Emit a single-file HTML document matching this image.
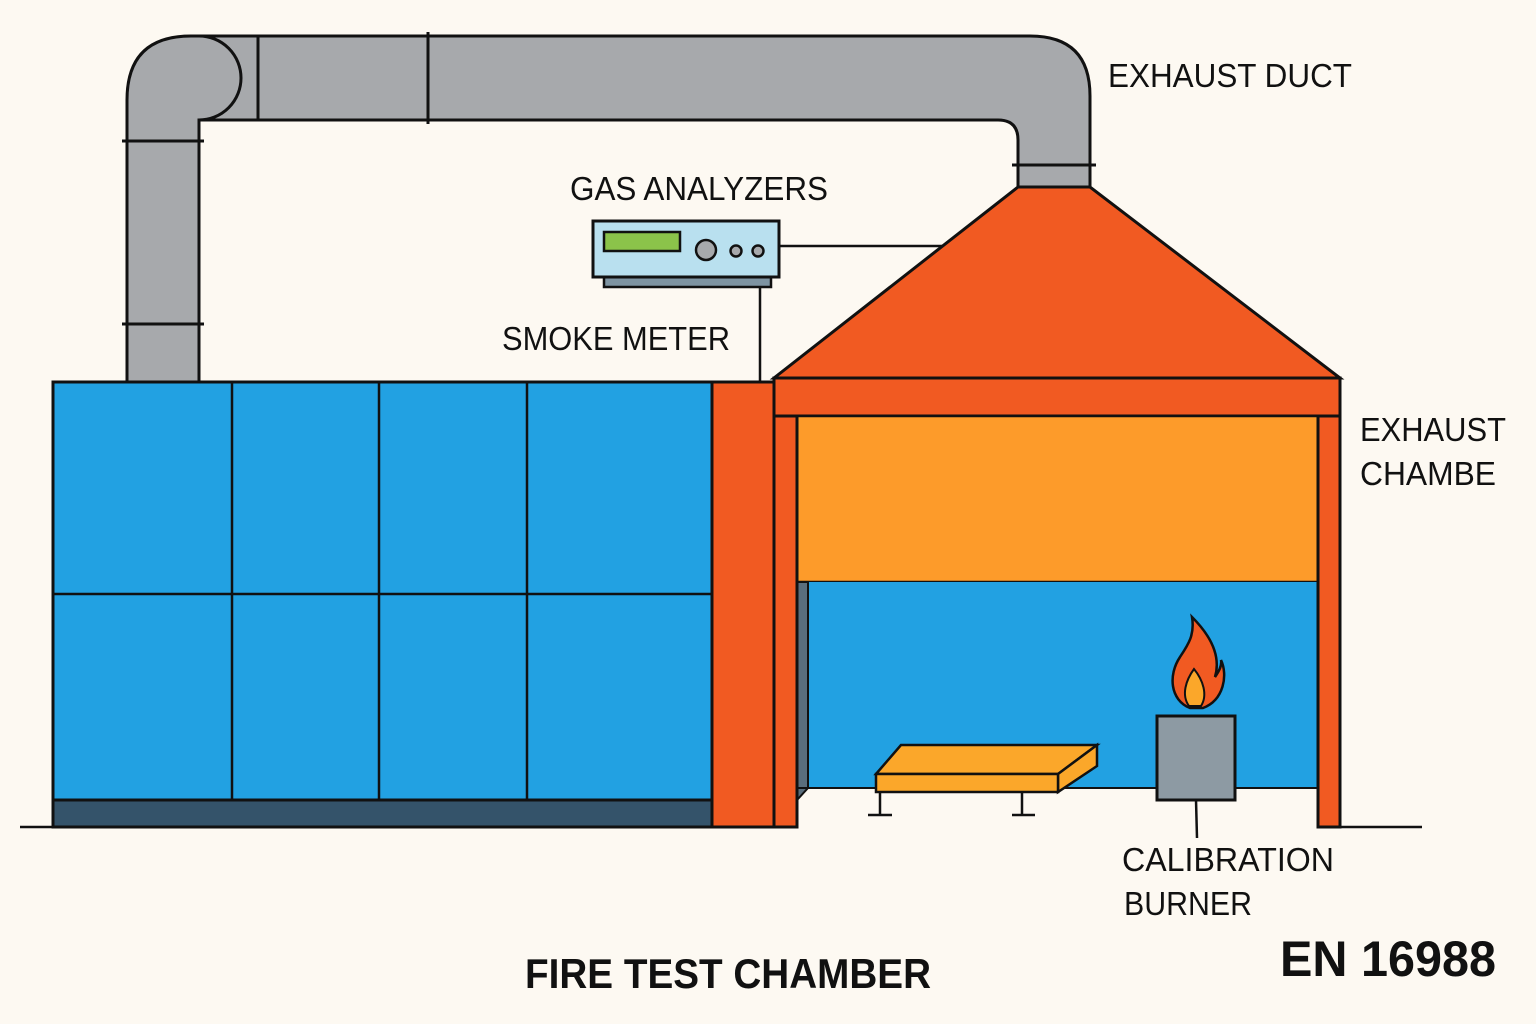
<!DOCTYPE html>
<html><head><meta charset="utf-8"><style>html,body{margin:0;padding:0;background:#fdf9f2}svg{display:block}</style></head><body>
<svg width="1536" height="1024" viewBox="0 0 1536 1024" xmlns="http://www.w3.org/2000/svg" font-family="Liberation Sans, sans-serif">
<rect width="1536" height="1024" fill="#fdf9f2"/>
<path d="M127,382 V100 Q127,36 191,36 H1030 Q1090,36 1090,96 V187 H1018 V140 Q1018,120 998,120 H199 V382 Z" fill="#a7a9ac" stroke="#111" stroke-width="3"/>
<path d="M199,120 A42,42 0 0 0 199,36" fill="none" stroke="#111" stroke-width="3"/>
<line x1="258" y1="36" x2="258" y2="120" stroke="#111" stroke-width="3"/>
<line x1="428" y1="32" x2="428" y2="124" stroke="#111" stroke-width="3"/>
<line x1="122" y1="141" x2="204" y2="141" stroke="#111" stroke-width="3"/>
<line x1="122" y1="324" x2="204" y2="324" stroke="#111" stroke-width="3"/>
<line x1="1012" y1="165" x2="1096" y2="165" stroke="#111" stroke-width="3"/>
<rect x="53" y="382" width="659" height="418" fill="#22a1e2" stroke="#111" stroke-width="3"/>
<rect x="53" y="800" width="659" height="27" fill="#34536a" stroke="#111" stroke-width="3"/>
<g stroke="#111" stroke-width="2.5"><line x1="232" y1="382" x2="232" y2="800"/><line x1="379" y1="382" x2="379" y2="800"/><line x1="527" y1="382" x2="527" y2="800"/><line x1="53" y1="594" x2="712" y2="594"/></g>
<rect x="712" y="382" width="62" height="445" fill="#f15a22" stroke="#111" stroke-width="3"/>
<polygon points="1018,187 1090,187 1340,378 774,378" fill="#f15a22" stroke="#111" stroke-width="3"/>
<rect x="774" y="378" width="566" height="38" fill="#f15a22" stroke="#111" stroke-width="3"/>
<rect x="797" y="416" width="521" height="166" fill="#fd9b2a" stroke="#111" stroke-width="2.5"/>
<rect x="808" y="582" width="510" height="206" fill="#22a1e2"/>
<polygon points="797,582 808,582 808,788 797,800" fill="#5a6e7d" stroke="#111" stroke-width="2"/>
<line x1="797" y1="788" x2="1318" y2="788" stroke="#111" stroke-width="2"/>
<rect x="774" y="416" width="23" height="411" fill="#f15a22" stroke="#111" stroke-width="3"/>
<rect x="1318" y="416" width="22" height="411" fill="#f15a22" stroke="#111" stroke-width="3"/>
<line x1="20" y1="827" x2="53" y2="827" stroke="#111" stroke-width="2.5"/>
<line x1="1340" y1="827" x2="1422" y2="827" stroke="#111" stroke-width="2.5"/>
<line x1="779" y1="246" x2="943" y2="246" stroke="#111" stroke-width="2.5"/>
<line x1="760" y1="287" x2="760" y2="382" stroke="#111" stroke-width="2.5"/>
<rect x="604" y="277" width="167" height="10" fill="#7e94a2" stroke="#111" stroke-width="2.5"/>
<rect x="593" y="221" width="186" height="56" fill="#b9e0ef" stroke="#111" stroke-width="3"/>
<rect x="604" y="232" width="76" height="19" fill="#8bc34a" stroke="#111" stroke-width="2.5"/>
<circle cx="706" cy="250" r="10" fill="#a7a9ac" stroke="#111" stroke-width="2.5"/>
<circle cx="736" cy="251" r="5.5" fill="#a7a9ac" stroke="#111" stroke-width="2.5"/>
<circle cx="758" cy="251" r="5.5" fill="#a7a9ac" stroke="#111" stroke-width="2.5"/>
<g stroke="#111" stroke-width="2.5">
<line x1="880" y1="792" x2="880" y2="815"/><line x1="868" y1="815" x2="892" y2="815"/>
<line x1="1022" y1="792" x2="1022" y2="815"/><line x1="1012" y1="815" x2="1035" y2="815"/>
<line x1="1060" y1="780" x2="1060" y2="788"/>
<polygon points="876,774 901,745 1097,745 1058,774" fill="#fba72a"/>
<polygon points="1058,774 1097,745 1097,766 1058,792" fill="#fba72a"/>
<rect x="876" y="774" width="182" height="18" fill="#fba72a"/>
</g>
<line x1="1196" y1="800" x2="1197" y2="838" stroke="#111" stroke-width="2.5"/>
<rect x="1157" y="716" width="78" height="84" fill="#8d9aa3" stroke="#111" stroke-width="3"/>
<path d="M1192,617 C1215,640 1220,660 1215,677 C1220,670 1222,665 1221,660 C1228,675 1224,700 1203,708 L1190,708 C1170,700 1168,675 1180,657 C1188,645 1195,635 1192,617 Z" fill="#f15a22" stroke="#111" stroke-width="2.5"/>
<path d="M1194,669 C1203,680 1208,695 1201,706 L1189,706 C1181,695 1186,680 1194,669 Z" fill="#fba72a" stroke="#111" stroke-width="2"/>
<g fill="#111" font-size="33">
<text x="1108" y="87" textLength="244" lengthAdjust="spacingAndGlyphs">EXHAUST DUCT</text>
<text x="570" y="200" textLength="258" lengthAdjust="spacingAndGlyphs">GAS ANALYZERS</text>
<text x="502" y="350" textLength="228" lengthAdjust="spacingAndGlyphs">SMOKE METER</text>
<text x="1360" y="441" textLength="146" lengthAdjust="spacingAndGlyphs">EXHAUST</text>
<text x="1360" y="485" textLength="136" lengthAdjust="spacingAndGlyphs">CHAMBE</text>
<text x="1122" y="871" textLength="212" lengthAdjust="spacingAndGlyphs">CALIBRATION</text>
<text x="1124" y="915" textLength="128" lengthAdjust="spacingAndGlyphs">BURNER</text>
</g>
<text x="525" y="988" font-size="42" font-weight="bold" fill="#111" textLength="406" lengthAdjust="spacingAndGlyphs">FIRE TEST CHAMBER</text>
<text x="1280" y="976" font-size="50" font-weight="bold" fill="#111" textLength="216" lengthAdjust="spacingAndGlyphs">EN 16988</text>
</svg>
</body></html>
